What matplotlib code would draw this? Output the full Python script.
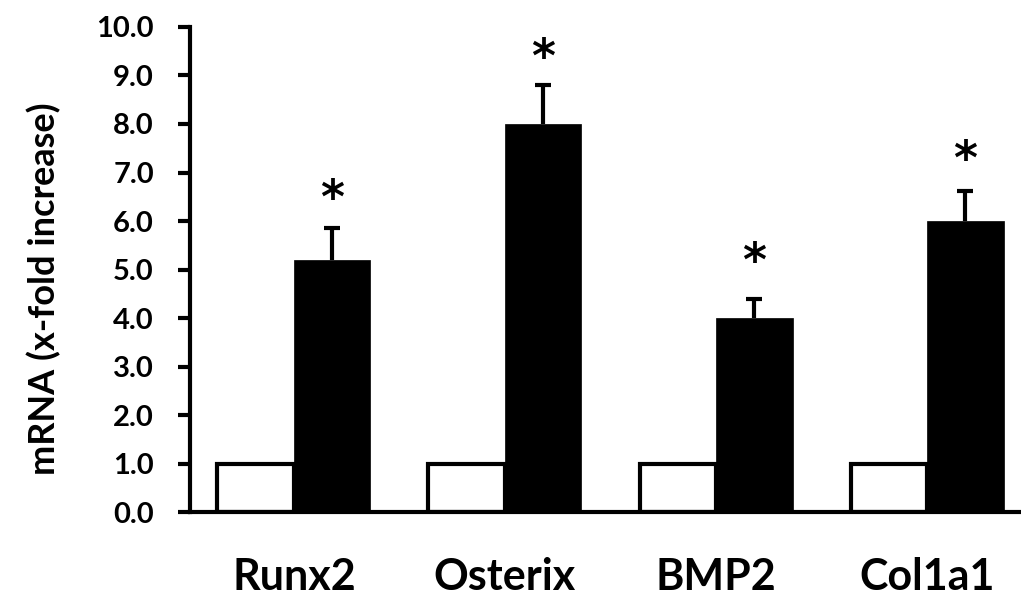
import numpy as np
import matplotlib
matplotlib.use("Agg")
import matplotlib.pyplot as plt

# values
genes = ["Runx2", "Osterix", "BMP2", "Col1a1"]
control = [1.0, 1.0, 1.0, 1.0]
treated = [5.2, 8.0, 4.0, 6.0]
treated_err = [0.66, 0.8, 0.4, 0.62]
star_y = [6.6, 9.5, 5.3, 7.4]
y_ticks = [0, 1, 2, 3, 4, 5, 6, 7, 8, 9, 10]

plt.rcParams["font.family"] = ["Lato", "DejaVu Sans"]
plt.rcParams["font.weight"] = "bold"
plt.rcParams["axes.labelweight"] = "bold"

fig = plt.figure(figsize=(10.21, 5.99), dpi=100)
ax = fig.add_axes([0.186, 0.145, 0.814, 0.81])

x = np.arange(len(genes))
w = 0.3625

ax.bar(x - w / 2, control, w, color="white", edgecolor="black", linewidth=3, zorder=2)
ax.bar(x + w / 2, treated, w, color="black", edgecolor="black", linewidth=0.5, zorder=2)
eb = ax.errorbar(x + w / 2, treated, yerr=[[0] * 4, treated_err], fmt="none",
                 ecolor="black", elinewidth=3, capsize=5.5, capthick=3, zorder=3)
eb[1][0].set_visible(False)  # no cap at the bar top

# significance stars
for xi, sy in zip(x, star_y):
    ax.annotate("*", (xi + w / 2, sy), xytext=(0, -6), textcoords="offset points",
                ha="center", va="center", fontsize=33, fontweight="bold",
                family="DejaVu Sans")

ax.set_xlim(-0.493, 3.445)
ax.set_ylim(0, 10)
ax.set_yticks(y_ticks)
ax.set_yticklabels([f"{v:.1f}" for v in y_ticks])
ax.set_xticks(x)
ax.set_xticklabels(genes)

for s in ["top", "right"]:
    ax.spines[s].set_visible(False)
for s in ["left", "bottom"]:
    ax.spines[s].set_linewidth(3)

ax.tick_params(axis="y", direction="out", length=9, width=3, pad=17, labelsize=21)
ax.tick_params(axis="x", length=0, pad=32, labelsize=31)
ax.set_ylabel("mRNA (x-fold increase)", fontsize=26)
ax.yaxis.set_label_coords(-0.155, 0.46)

fig.savefig("out.png", dpi=100)
